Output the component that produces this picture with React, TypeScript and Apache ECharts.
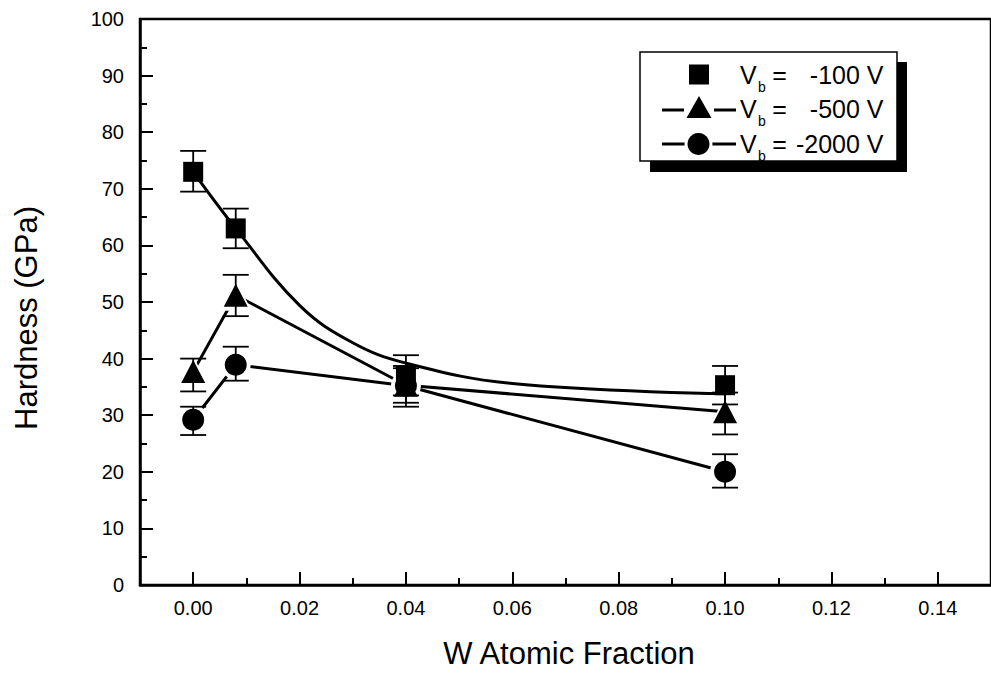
import React, { useEffect, useRef } from 'react';
import * as echarts from 'echarts';

// ---- data ----
const xTicks = [0, 0.02, 0.04, 0.06, 0.08, 0.1, 0.12, 0.14];
const xMinorTicks = [0.01, 0.03, 0.05, 0.07, 0.09, 0.11, 0.13];
const wFraction = [0, 0.008, 0.04, 0.1];

const hard100 = [73, 63, 37, 35.3];
const hard100Low = [69.5, 59.5, 33.5, 31.9];
const hard100High = [76.7, 66.5, 40.6, 38.7];

const hard500 = [37.7, 51.2, 35.3, 30.6];
const hard500Low = [34.2, 47.5, 31.5, 26.6];
const hard500High = [40.0, 54.8, 38.7, 34.0];

const hard2000 = [29.2, 38.9, 35.2, 20.0];
const hard2000Low = [26.5, 36.1, 32.2, 17.2];
const hard2000High = [31.5, 42.1, 38.3, 23.1];

// fitted curve through the -100 V points
const fitX = [0, 0.008, 0.02, 0.03, 0.04, 0.06, 0.1];
const fitY = [73, 63, 49.4, 42.8, 39.2, 35.6, 33.8];

const legendRows = ['-100 V', '-500 V', '-2000 V'];

const FONT = '"Liberation Sans", Arial, Helvetica, sans-serif';

export default function App() {
  const ref = useRef<HTMLDivElement>(null);

  useEffect(() => {
    const chart = echarts.init(ref.current!, null, { renderer: 'svg' });

    const pts = (ys: number[]) => wFraction.map((x, i) => [x, ys[i]]);
    const errs = (lo: number[], hi: number[]) => wFraction.map((x, i) => [x, lo[i], hi[i]]);

    const errRender = (params: any, api: any) => {
      const x = api.value(0);
      const p1 = api.coord([x, api.value(1)]);
      const p2 = api.coord([x, api.value(2)]);
      const hw = 13;
      const style = { stroke: '#000', lineWidth: 1.8 };
      return {
        type: 'group',
        children: [
          { type: 'line', shape: { x1: p1[0], y1: p1[1], x2: p2[0], y2: p2[1] }, style },
          { type: 'line', shape: { x1: p1[0] - hw, y1: p1[1], x2: p1[0] + hw, y2: p1[1] }, style },
          { type: 'line', shape: { x1: p2[0] - hw, y1: p2[1], x2: p2[0] + hw, y2: p2[1] }, style },
        ],
      };
    };

    const errSeries = (lo: number[], hi: number[]) => ({
      type: 'custom',
      renderItem: errRender,
      data: errs(lo, hi),
      encode: { x: 0, y: [1, 2] },
      z: 3,
      silent: true,
    });

    const markerSeries = (ys: number[], symbol: string, size: any, color: string, z: number) => ({
      type: 'scatter',
      data: pts(ys),
      symbol,
      symbolSize: size,
      itemStyle: { color, opacity: 1 },
      z,
      silent: true,
    });

    const rowY = [74.5, 108.5, 143.5];
    const legendChildren: any[] = [
      { type: 'rect', shape: { x: 650, y: 62, width: 257, height: 110 }, style: { fill: '#000' } },
      { type: 'rect', shape: { x: 640, y: 52, width: 257, height: 109 }, style: { fill: '#fff', stroke: '#000', lineWidth: 1.5 } },
      { type: 'rect', shape: { x: 689, y: 64.5, width: 20, height: 20 }, style: { fill: '#000' } },
      { type: 'line', shape: { x1: 662, y1: 110, x2: 736, y2: 110 }, style: { stroke: '#000', lineWidth: 3 } },
      { type: 'rect', shape: { x: 684, y: 104, width: 30, height: 12 }, style: { fill: '#fff' } },
      { type: 'polygon', shape: { points: [[699, 96], [711.5, 118], [686.5, 118]] }, style: { fill: '#000' } },
      { type: 'line', shape: { x1: 662, y1: 144, x2: 736, y2: 144 }, style: { stroke: '#000', lineWidth: 3 } },
      { type: 'circle', shape: { cx: 698.5, cy: 144, r: 14 }, style: { fill: '#fff' } },
      { type: 'circle', shape: { cx: 698.5, cy: 144, r: 11 }, style: { fill: '#000' } },
    ];
    legendRows.forEach((label, i) => {
      const y = rowY[i];
      legendChildren.push(
        { type: 'text', x: 740, y, style: { text: 'V', font: `25px ${FONT}`, fill: '#000', verticalAlign: 'middle', align: 'left' } },
        { type: 'text', x: 758, y: y + 12.5, style: { text: 'b', font: `14px ${FONT}`, fill: '#000', verticalAlign: 'middle', align: 'left' } },
        { type: 'text', x: 779.5, y, style: { text: '=', font: `25px ${FONT}`, fill: '#000', verticalAlign: 'middle', align: 'center' } },
        { type: 'text', x: 883.5, y, style: { text: label, font: `25px ${FONT}`, fill: '#000', verticalAlign: 'middle', align: 'right' } },
      );
    });

    const option: any = {
      animation: false,
      backgroundColor: '#fff',
      grid: {
        left: 140,
        top: 19,
        right: -9,
        bottom: 88,
        show: true,
        borderColor: '#000',
        borderWidth: 2.5,
        backgroundColor: 'transparent',
      },
      xAxis: [
        {
          type: 'value',
          min: -0.01,
          max: 0.15,
          position: 'bottom',
          axisLine: { show: true, onZero: false, lineStyle: { color: '#000', width: 2.5 } },
          axisTick: { show: true, inside: true, length: 13, customValues: xTicks, lineStyle: { color: '#000', width: 2 } },
          axisLabel: {
            customValues: xTicks,
            formatter: (v: number) => v.toFixed(2),
            color: '#000',
            fontSize: 20,
            fontFamily: FONT,
            margin: 13,
          },
          splitLine: { show: false },
        },
        {
          type: 'value',
          min: -0.01,
          max: 0.15,
          position: 'bottom',
          axisLine: { show: false, onZero: false },
          axisTick: { show: true, inside: true, length: 7, customValues: xMinorTicks, lineStyle: { color: '#000', width: 2 } },
          axisLabel: { show: false },
          splitLine: { show: false },
        },
      ],
      yAxis: {
        type: 'value',
        min: 0,
        max: 100,
        interval: 10,
        position: 'left',
        axisLine: { show: true, onZero: false, lineStyle: { color: '#000', width: 2.5 } },
        axisTick: { show: true, inside: true, length: 13, lineStyle: { color: '#000', width: 2 } },
        minorTick: { show: true, splitNumber: 2, length: 7, lineStyle: { color: '#000', width: 2 } },
        axisLabel: { color: '#000', fontSize: 20, fontFamily: FONT, margin: 16 },
        splitLine: { show: false },
        minorSplitLine: { show: false },
      },
      graphic: [
        {
          type: 'text',
          x: 569,
          y: 653,
          style: { text: 'W Atomic Fraction', font: `31px ${FONT}`, fill: '#000', align: 'center', verticalAlign: 'middle' },
        },
        {
          type: 'text',
          x: 26,
          y: 318,
          rotation: Math.PI / 2,
          style: { text: 'Hardness (GPa)', font: `31px ${FONT}`, fill: '#000', align: 'center', verticalAlign: 'middle' },
        },
        { type: 'group', children: legendChildren, z: 100 },
      ],
      series: [
        {
          type: 'line',
          data: fitX.map((x, i) => [x, fitY[i]]),
          showSymbol: false,
          symbol: 'none',
          smooth: 0.4,
          lineStyle: { color: '#000', width: 3 },
          z: 1,
          silent: true,
        },
        {
          type: 'line',
          data: pts(hard500),
          symbol: 'none',
          lineStyle: { color: '#000', width: 3 },
          z: 1,
          silent: true,
        },
        {
          type: 'line',
          data: pts(hard2000),
          symbol: 'none',
          lineStyle: { color: '#000', width: 3 },
          z: 1,
          silent: true,
        },
        markerSeries(hard500, 'triangle', [32, 31], '#fff', 2),
        markerSeries(hard2000, 'circle', 30, '#fff', 2),
        errSeries(hard100Low, hard100High),
        errSeries(hard500Low, hard500High),
        errSeries(hard2000Low, hard2000High),
        markerSeries(hard100, 'rect', 20, '#000', 4),
        markerSeries(hard500, 'triangle', [24, 23], '#000', 4),
        markerSeries(hard2000, 'circle', 22, '#000', 4),
      ],
    };

    chart.setOption(option);
    return () => chart.dispose();
  }, []);

  return (
    <div
      ref={ref}
      style={{ position: 'fixed', left: 0, top: 0, width: 991, height: 673, background: '#fff' }}
    />
  );
}
